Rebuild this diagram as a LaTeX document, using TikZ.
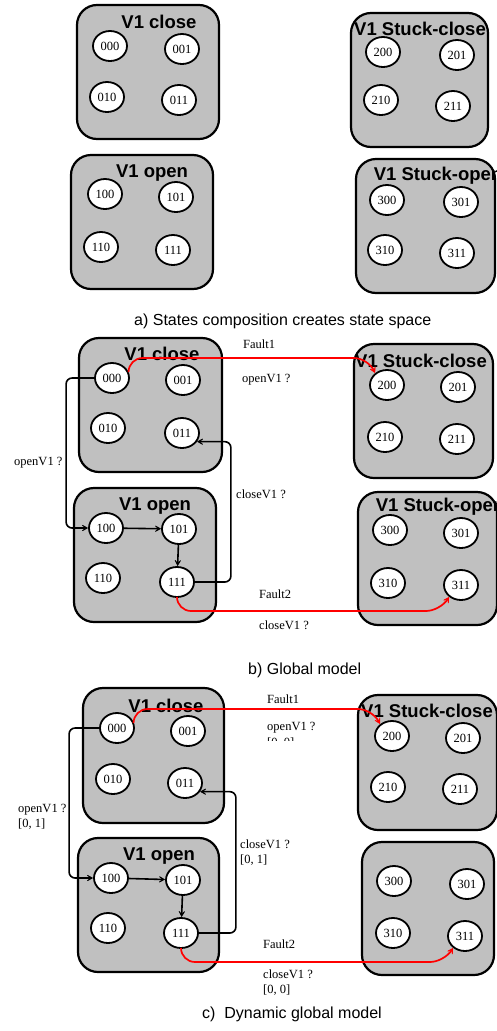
\documentclass[tikz,border=0pt]{standalone}
\usepackage{fontspec}
\setmainfont{Liberation Serif}
\setsansfont{Liberation Sans}
\usetikzlibrary{shapes.geometric,arrows.meta}
\definecolor{boxgray}{HTML}{C0C0C0}

\begin{document}
\begin{tikzpicture}[x=1pt,y=-1pt,
  grp/.style={draw,line width=2.2pt,fill=boxgray,rounded corners=20pt},
  ttl/.style={anchor=base,inner sep=0pt,font=\sffamily\bfseries\fontsize{18.5}{20}\selectfont},
  st/.style={ellipse,draw,line width=1.8pt,fill=white,minimum width=34pt,minimum height=30pt,inner sep=0pt,font=\fontsize{12.5}{15}\selectfont},
  lbl/.style={anchor=base west,inner sep=0pt,font=\fontsize{12.5}{15}\selectfont},
  lbltwo/.style={anchor=north west,inner sep=0pt,align=left,font=\fontsize{12.5}{15}\selectfont},
  capt/.style={anchor=base west,inner sep=0pt,font=\sffamily\fontsize{16}{19}\selectfont},
  arr/.style={line width=1.6pt,-{Stealth[length=9pt,width=10pt,inset=6pt]},rounded corners=6pt},
  flt/.style={red,line width=1.7pt,-{Stealth[length=9pt,width=10pt,inset=6pt]},rounded corners=14pt}]
\useasboundingbox (0,0) rectangle (496,1031);

% a) states composition
\foreach \x/\y/\X/\Y in {77/5/219/139, 71/155/213/289, 351/13/488/147, 356/159/495/293}
  \draw[grp] (\x,\y) rectangle (\X,\Y);
\node[ttl] (aT1) at (159,28) {V1 close};
\node[ttl] (aT2) at (152,177) {V1 open};
\node[ttl] (aT3) at (420,35) {V1 Stuck-close};
\node[ttl] (aT4) at (438,180) {V1 Stuck-open};
\foreach \n/\x/\y in {000/110/46, 001/182/49, 010/107/97, 011/179/100,
                      100/105/194, 101/176/197, 110/101/247, 111/173/250,
                      200/383/52, 201/457/55, 210/381/100, 211/453/106,
                      300/387/200, 301/461/202, 310/385/250, 311/457/253}
  \node[st] (a\n) at (\x,\y) {\n};
\node[capt] (acap) at (134,325) {a) States composition creates state space};

% b) global model
\foreach \x/\y/\X/\Y in {79/338/222/472, 74/488/216/622, 354/344/493/478, 358/492/497/625}
  \draw[grp] (\x,\y) rectangle (\X,\Y);
\node[ttl] (bT1) at (162,360) {V1 close};
\node[ttl] (bT2) at (155,510) {V1 open};
\node[ttl] (bT3) at (421,367) {V1 Stuck-close};
\node[ttl] (bT4) at (440,511) {V1 Stuck-open};
\foreach \n/\x/\y in {000/112/378, 001/183/380, 010/108/428, 011/182/433,
                      100/106/528, 101/179/529, 110/103/578, 111/177/582,
                      200/387/385, 201/458/387, 210/385/437, 211/457/439,
                      300/390/530, 301/461/533, 310/388/583, 311/461/585}
  \node[st] (b\n) at (\x,\y) {\n};
\draw[arr] (b000.west) -- ++(-28,0) |- (b100.west);
\draw[arr] (b100) -- (b101);
\draw[arr] (b101) -- (b111);
\draw[arr] (b111.east) -- ++(36,0) |- (b011.-30);
\draw[flt] (b000.20) |- (368,358) -- (b200.135);
\draw[flt] (b111.south) |- (440,611) -- (b311.225);
\node[lbl] (bo) at (14,465) {openV1 ?};
\node[lbl] (bc) at (236,498) {closeV1 ?};
\node[lbl] (bf1) at (243,348) {Fault1};
\node[lbl] (bo1) at (242,382) {openV1 ?};
\node[lbl] (bf2) at (259,598) {Fault2};
\node[lbl] (bc2) at (259,629) {closeV1 ?};
\node[capt] (bcap) at (248,674) {b) Global model};

% c) dynamic global model
\foreach \x/\y/\X/\Y in {83/688/224/823, 78/838/219/972, 358/695/497/830, 362/842/494/975}
  \draw[grp] (\x,\y) rectangle (\X,\Y);
\node[ttl] (cT1) at (166,712) {V1 close};
\node[ttl] (cT2) at (159,860) {V1 open};
\node[ttl] (cT3) at (427,717) {V1 Stuck-close};
\foreach \n/\x/\y in {000/117/728, 001/188/731, 010/113/779, 011/185/783,
                      100/111/878, 101/183/880, 110/108/928, 111/181/933,
                      200/392/736, 201/463/738, 210/388/787, 211/460/789,
                      300/394/881, 301/467/884, 310/393/933, 311/465/936}
  \node[st] (c\n) at (\x,\y) {\n};
\draw[arr] (c000.west) -- ++(-30,0) |- (c100.west);
\draw[arr] (c100) -- (c101);
\draw[arr] (c101) -- (c111);
\draw[arr] (c111.east) -- ++(37,0) |- (c011.-30);
\draw[flt] (c000.20) |- (372,709) -- (c200.135);
\draw[flt] (c111.south) |- (444,962) -- (c311.225);
\node[lbltwo] (co) at (18,804.5) {openV1 ?\\{}[0, 1]};
\node[lbltwo] (cc) at (240,839.5) {closeV1 ?\\{}[0, 1]};
\node[lbl] (cf1) at (267,703) {Fault1};
\node[lbl] (co1) at (267,730) {openV1 ?};
\begin{scope}
  \clip (250,735) rectangle (350,740);
  \node[lbl] (co1b) at (267,746) {[0, 0]};
\end{scope}
\node[lbl] (cf2) at (263,948) {Fault2};
\node[lbltwo] (cc2) at (263,969.5) {closeV1 ?\\{}[0, 0]};
\node[capt] (ccap) at (202,1018.5) {c)\ \ Dynamic global model};
\end{tikzpicture}
\end{document}
